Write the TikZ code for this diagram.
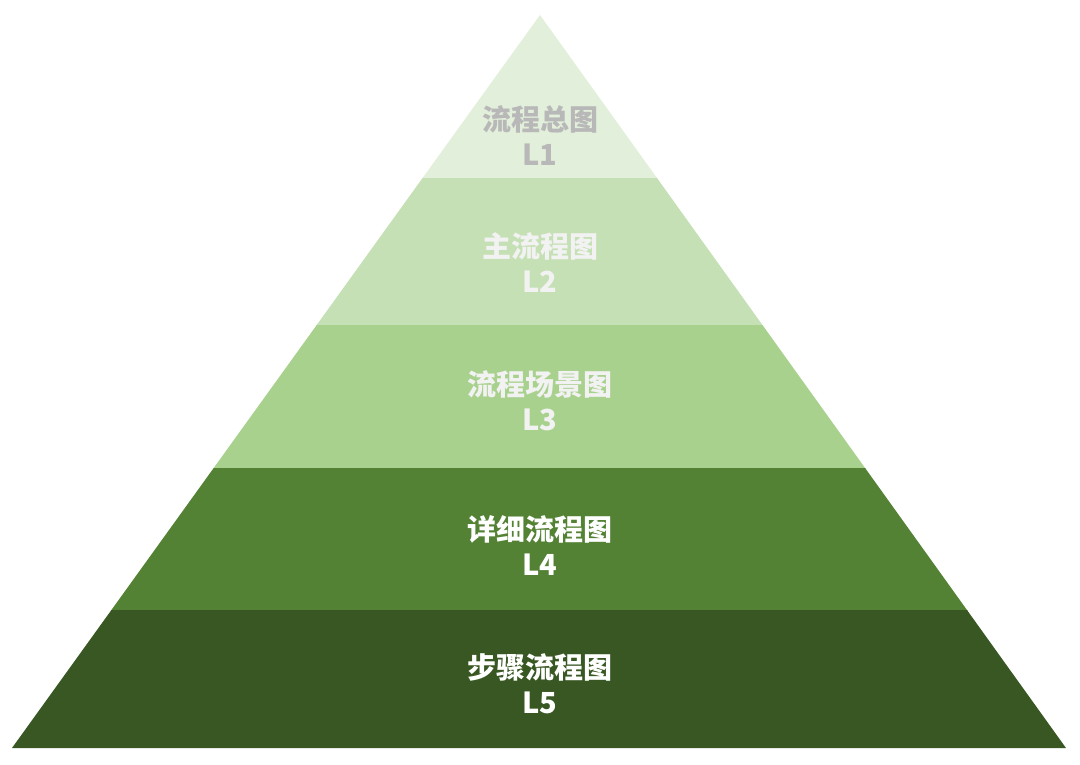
\documentclass[tikz,border=0pt]{standalone}
\usepackage{fontspec}
\newfontfamily\cjk{Noto Sans CJK SC}
\usepackage{tikz}
\definecolor{lvone}{HTML}{E2EFDA}
\definecolor{lvtwo}{HTML}{C5E0B4}
\definecolor{lvthree}{HTML}{A9D18E}
\definecolor{lvfour}{HTML}{548235}
\definecolor{lvfive}{HTML}{385723}
\definecolor{txtgray}{HTML}{B8B8B8}
\definecolor{txtlight}{HTML}{F2F2F2}
\tikzset{
  tier/.style={
    align=center, inner sep=0pt,
    font=\cjk\bfseries\fontsize{29}{35}\selectfont
  },
  tierG/.style={tier, text=txtgray},
  tierL/.style={tier, text=txtlight},
  tierW/.style={tier, text=white}
}

\begin{document}
\begin{tikzpicture}[x=1pt, y=-1pt]
  \useasboundingbox (0,0) rectangle (1080,764);
  \coordinate (apex) at (540,15);
  \coordinate (bl) at (12,748);
  \coordinate (br) at (1066,748);

  % bands of the pyramid
  \foreach \top/\bot/\col in {0/178/lvone, 178/325/lvtwo, 325/468/lvthree,
                              468/610/lvfour, 610/748/lvfive}{
    \begin{scope}
      \clip (0,\top) rectangle (1080,\bot);
      \fill[\col] (apex) -- (bl) -- (br) -- cycle;
    \end{scope}
  }

  \node[tierG] (l1) at (540,136) {流程总图\\L1};
  \node[tierL] (l2) at (540,263) {主流程图\\L2};
  \node[tierL] (l3) at (540,401) {流程场景图\\L3};
  \node[tierW] (l4) at (540,546) {详细流程图\\L4};
  \node[tierW] (l5) at (540,684) {步骤流程图\\L5};
\end{tikzpicture}
\end{document}
